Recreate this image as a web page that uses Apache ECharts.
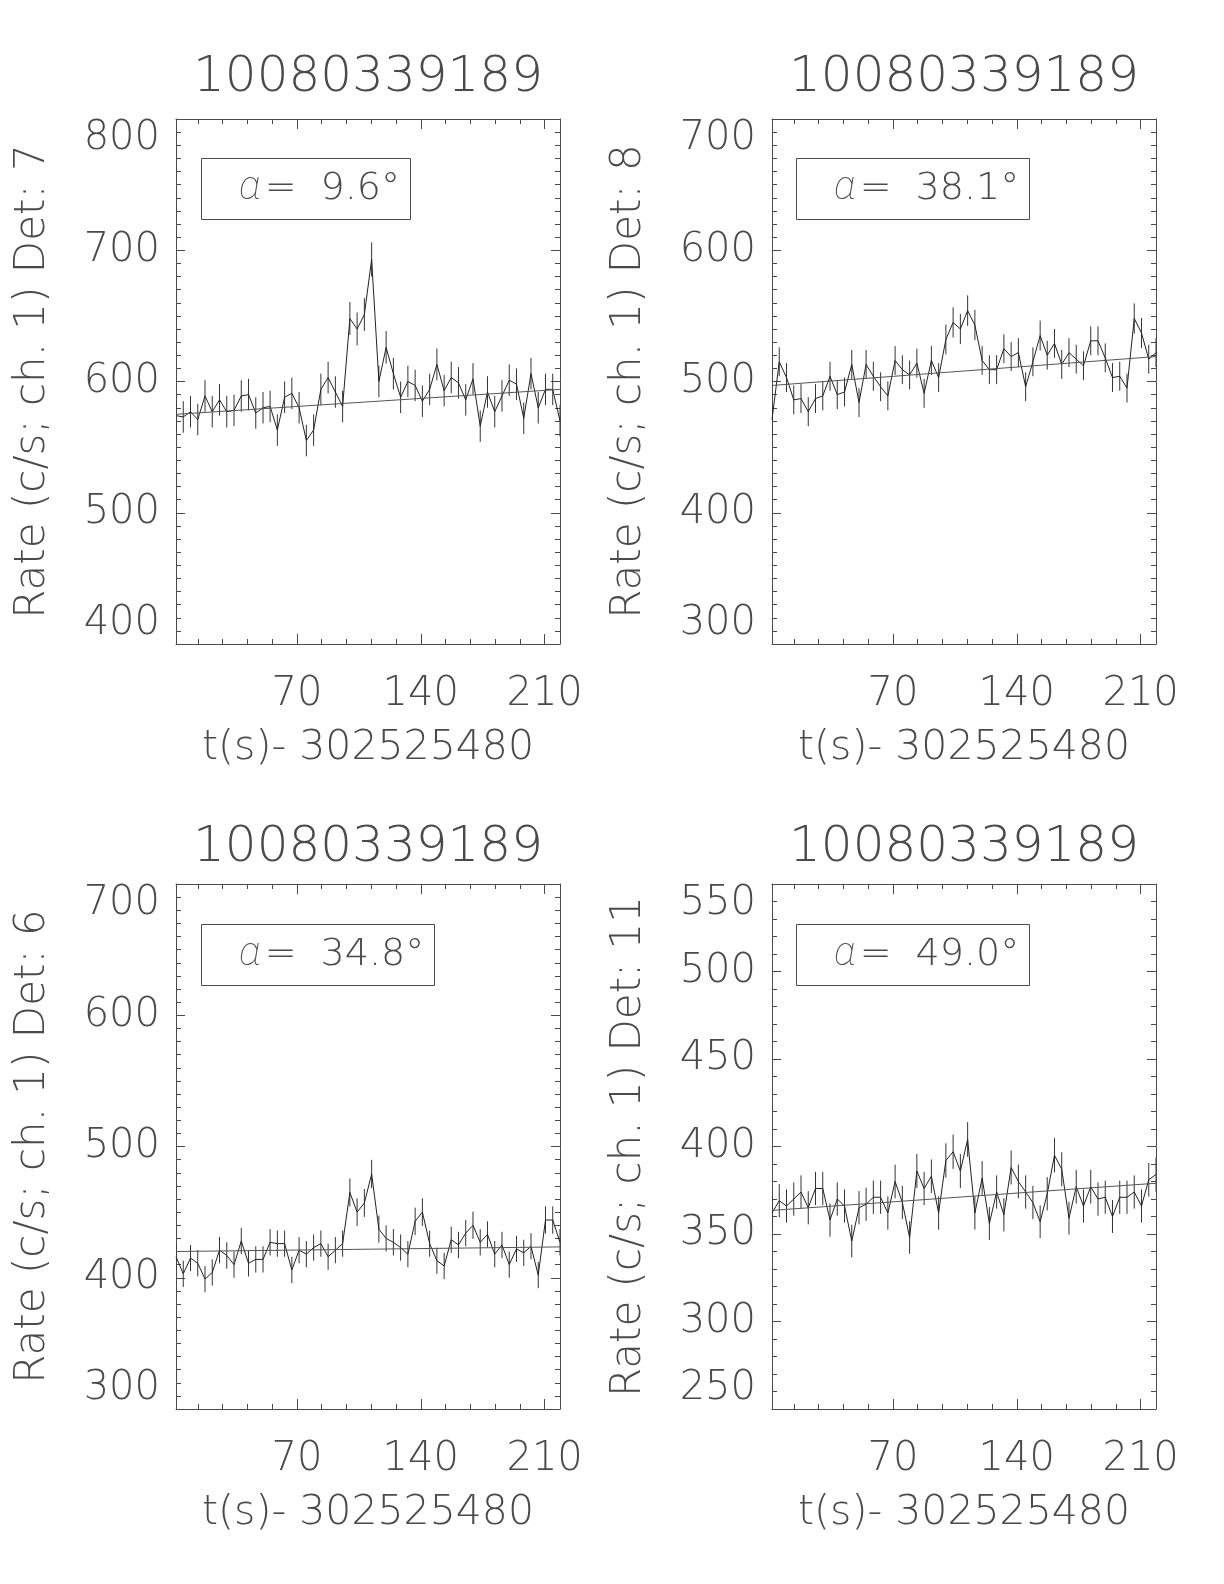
<!DOCTYPE html>
<html><head><meta charset="utf-8">
<script src="https://cdn.jsdelivr.net/npm/echarts@6/dist/echarts.min.js"></script>
<style>html,body{margin:0;padding:0;background:#fff}#c{width:1224px;height:1584px}</style>
</head><body><div id="c"></div>
<script>
// ---- data ----
const times = [1.6, 5.7, 9.8, 13.9, 18.0, 22.1, 26.2, 30.3, 34.4, 38.5, 42.6, 46.7, 50.8, 54.8, 58.9, 63.0, 67.1, 71.2, 75.3, 79.4, 83.5, 87.6, 91.7, 95.8, 99.9, 104.0, 108.1, 112.2, 116.3, 120.4, 124.5, 128.6, 132.7, 136.8, 140.9, 145.0, 149.1, 153.2, 157.2, 161.3, 165.4, 169.5, 173.6, 177.7, 181.8, 185.9, 190.0, 194.1, 198.2, 202.3, 206.4, 210.5, 214.6, 218.7];
const rateDet7 = [574,573,577,571,589,577,586,577,578,589, 590,576,580,581,563,588,591,580,555,563, 594,603,592,581,648,640,651,693,600,626, 606,588,600,597,585,594,613,593,603,599, 586,602,566,592,577,589,601,598,572,606, 580,594,594,570];
const errDet7 = [12,12,12,12,12,12,12,12,12,12, 12,12,12,12,12,12,12,12,12,12, 12,12,12,12,12.5,12.5,12.5,13,12,12.4, 12,12,12,12,12,12,12.2,12,12,12, 12,12,12,12,12,12,12,12,12,12, 12,12,12,12];
const fitDet7 = [575, 594];
const rateDet8 = [471,515,503,486,487,477,487,489,504,490, 492,513,484,513,504,496,489,516,509,505, 514,491,516,503,532,545,540,554,543,516, 509,509,525,519,522,496,515,535,520,529, 513,522,517,512,531,531,518,503,504,495, 548,537,517,522];
const errDet8 = [11,11,11,11,11,11,11,11,11,11, 11,11,11,11,11,11,11,11,11,11, 11,11,11,11,11.4,11.5,11.5,11.6,11.5,11, 11,11,11,11,11,11,11,11.4,11,11, 11,11,11,11,11,11,11,11,11,11, 11.5,11.4,11,11];
const fitDet8 = [497, 519];
const rateDet6 = [416,403,415,411,399,404,421,417,410,428, 411,414,414,427,426,426,406,421,418,423, 426,416,421,426,465,450,457,479,437,430, 427,423,418,443,450,426,413,409,429,425, 434,440,427,433,418,425,410,422,419,424, 402,444,444,427];
const errDet6 = [10,10,10,10,10,10,10,10,10,10, 10,10,10,10,10,10,10,10,10,10, 10,10,10,10,10.6,10.5,10.6,10.8,10.3,10, 10,10,10,10.4,10.5,10,10,10,10,10, 10,10.4,10,10,10,10,10,10,10,10, 10,10.4,10.4,10];
const fitDet6 = [420, 423.5];
const rateDet11 = [362,369,366,370,374,365,376,376,358,370, 366,346,365,367,371,371,362,380,368,348, 386,376,383,362,392,397,386,404,362,382, 356,374,361,388,380,374,368,357,373,395, 387,359,377,366,377,370,371,360,371,371, 374,366,381,384];
const errDet11 = [9.5,9.5,9.5,9.5,9.5,9.5,9.5,9.5,9.5,9.5, 9.5,9.3,9.5,9.5,9.5,9.5,9.5,9.6,9.5,9.3, 9.7,9.5,9.6,9.5,9.8,9.8,9.7,9.9,9.5,9.6, 9.4,9.5,9.5,9.7,9.6,9.5,9.5,9.4,9.5,9.8, 9.7,9.4,9.6,9.5,9.6,9.5,9.5,9.4,9.5,9.5, 9.5,9.5,9.6,9.7];
const fitDet11 = [363.5, 379];

const panelTitles = ['10080339189', '10080339189', '10080339189', '10080339189'];
const yAxisNames = ['Rate (c/s; ch. 1) Det: 7', 'Rate (c/s; ch. 1) Det: 8', 'Rate (c/s; ch. 1) Det: 6', 'Rate (c/s; ch. 1) Det: 11'];
const xAxisName = 't(s)- 302525480';
const alphaValues = ['9.6', '38.1', '34.8', '49.0'];
const xRange = [1.6, 218.7];
const xMajorTicks = [70, 140, 210];
const xMinorTicks = [14, 28, 42, 56, 84, 98, 112, 126, 154, 168, 182, 196];
const yMins = [400, 300, 300, 250];
const yMaxs = [800, 700, 700, 550];
const yIntervals = [100, 100, 100, 50];
const yMinorSplits = [10, 10, 10, 5];

const rates = [rateDet7, rateDet8, rateDet6, rateDet11];
const errs = [errDet7, errDet8, errDet6, errDet11];
const fits = [fitDet7, fitDet8, fitDet6, fitDet11];

// ---- layout / style ----
const FONT = '"DejaVu Sans", Roboto, sans-serif';
const GREEK = 'Roboto, "DejaVu Sans", sans-serif';
const FW = 200;
const TXT = '#4a4a4a';
const AX = '#4a4a4a';
const gridLeft = [176, 772, 176, 772];
const gridTop = [119, 119, 884, 884];
const titleShift = [0, 0, 5, 5];
const GW = 384, GH = 525;
const boxLeft = [201, 796, 201, 796];
const boxTop = [158, 158, 924, 924];

const grids = [], xAxes = [], yAxes = [], series = [], titles = [];

function errBar(params, api) {
  const x = api.value(0), y = api.value(1), e = api.value(2);
  const a = api.coord([x, y - e]), b = api.coord([x, y + e]);
  return { type: 'line', shape: { x1: a[0], y1: a[1], x2: b[0], y2: b[1] },
           style: { stroke: '#333', lineWidth: 1 } };
}

for (let g = 0; g < 4; g++) {
  grids.push({ left: gridLeft[g], top: gridTop[g], width: GW, height: GH });
  const base = { gridIndex: g, type: 'value', min: xRange[0], max: xRange[1], splitLine: { show: false } };
  xAxes.push(Object.assign({}, base, {
    position: 'bottom',
    axisLine: { show: true, onZero: false, lineStyle: { color: AX, width: 1 } },
    axisTick: { show: true, inside: true, length: 10, customValues: xMajorTicks, lineStyle: { color: AX } },
    axisLabel: { show: true, customValues: xMajorTicks, margin: 31, fontSize: 40, color: TXT, fontFamily: FONT, fontWeight: FW },
    name: xAxisName, nameLocation: 'middle', nameGap: 84,
    nameTextStyle: { fontSize: 41, color: TXT, fontFamily: FONT, fontWeight: FW }
  }));
  xAxes.push(Object.assign({}, base, {
    position: 'bottom', axisLine: { show: false, onZero: false },
    axisTick: { show: true, inside: true, length: 5, customValues: xMinorTicks, lineStyle: { color: AX } },
    axisLabel: { show: false }
  }));
  xAxes.push(Object.assign({}, base, {
    position: 'top', axisLine: { show: true, onZero: false, lineStyle: { color: AX, width: 1 } },
    axisTick: { show: true, inside: true, length: 10, customValues: xMajorTicks, lineStyle: { color: AX } },
    axisLabel: { show: false }
  }));
  xAxes.push(Object.assign({}, base, {
    position: 'top', axisLine: { show: false, onZero: false },
    axisTick: { show: true, inside: true, length: 5, customValues: xMinorTicks, lineStyle: { color: AX } },
    axisLabel: { show: false }
  }));
  const ybase = { gridIndex: g, type: 'value', min: yMins[g], max: yMaxs[g], interval: yIntervals[g], splitLine: { show: false } };
  yAxes.push(Object.assign({}, ybase, {
    position: 'left',
    axisLine: { show: true, onZero: false, lineStyle: { color: AX, width: 1 } },
    axisTick: { show: true, inside: true, length: 9, lineStyle: { color: AX } },
    minorTick: { show: true, splitNumber: yMinorSplits[g], length: 5, lineStyle: { color: AX } },
    axisLabel: { margin: 16, fontSize: 40, color: TXT, fontFamily: FONT, fontWeight: FW,
                 verticalAlignMinLabel: 'bottom', verticalAlignMaxLabel: 'top' },
    name: yAxisNames[g], nameLocation: 'middle', nameGap: 122,
    nameTextStyle: { fontSize: 42, color: TXT, fontFamily: FONT, fontWeight: FW }
  }));
  yAxes.push(Object.assign({}, ybase, {
    position: 'right',
    axisLine: { show: true, onZero: false, lineStyle: { color: AX, width: 1 } },
    axisTick: { show: true, inside: true, length: 9, lineStyle: { color: AX } },
    minorTick: { show: true, splitNumber: yMinorSplits[g], length: 5, lineStyle: { color: AX } },
    axisLabel: { show: false }
  }));
  const xi = g * 4, yi = g * 2;
  const pts = times.map((t, i) => [t, rates[g][i]]);
  const bars = times.map((t, i) => [t, rates[g][i], errs[g][i]]);
  series.push({ type: 'custom', xAxisIndex: xi, yAxisIndex: yi, renderItem: errBar, data: bars,
                encode: { x: 0, y: 1 }, clip: true, silent: true, z: 2 });
  series.push({ type: 'line', xAxisIndex: xi, yAxisIndex: yi, data: pts, symbol: 'none',
                lineStyle: { color: '#222', width: 1 }, z: 3, silent: true });
  series.push({ type: 'line', xAxisIndex: xi, yAxisIndex: yi,
                data: [[xRange[0], fits[g][0]], [xRange[1], fits[g][1]]], symbol: 'none',
                lineStyle: { color: '#555', width: 1 }, z: 3, silent: true });
  titles.push({ text: panelTitles[g], left: gridLeft[g] + GW / 2, textAlign: 'center', top: gridTop[g] - 66 + titleShift[g], padding: 0,
                textStyle: { fontSize: 50, fontWeight: FW, color: TXT, fontFamily: FONT } });
  titles.push({ text: '{a|α}{e|=}{v|' + alphaValues[g] + '°}', left: boxLeft[g], top: boxTop[g],
                padding: [11, 11, 11, 38], borderWidth: 1, borderColor: AX,
                textStyle: { fontSize: 38, fontWeight: FW, color: TXT, fontFamily: FONT,
                             rich: { a: { fontSize: 40, fontStyle: 'italic', fontWeight: 100, color: TXT, fontFamily: GREEK, padding: [0, 2, 0, 0] },
                                     e: { fontSize: 38, fontWeight: FW, color: TXT, fontFamily: FONT, padding: [0, 24, 0, 2] },
                                     v: { fontSize: 38, fontWeight: FW, color: TXT, fontFamily: FONT } } } });
}

const chart = echarts.init(document.getElementById('c'), null, { renderer: 'canvas' });
chart.setOption({ animation: false, backgroundColor: '#fff', title: titles, grid: grids, xAxis: xAxes, yAxis: yAxes, series: series });
</script></body></html>
